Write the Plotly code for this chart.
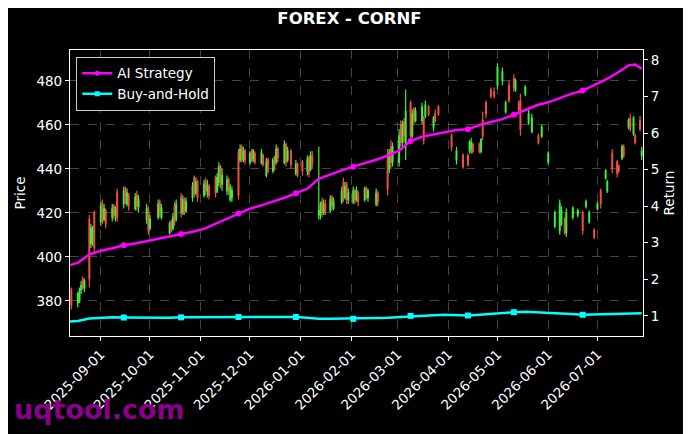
import plotly.graph_objects as go

# daily candles (trading days shown in the chart)
candle_dates = [
    "2025-08-14", "2025-08-18", "2025-08-19", "2025-08-20", "2025-08-21", "2025-08-22",
    "2025-08-25", "2025-08-26", "2025-08-27", "2025-08-28",
    "2025-09-01", "2025-09-02", "2025-09-03", "2025-09-04",
    "2025-09-08", "2025-09-09", "2025-09-10", "2025-09-11",
    "2025-09-15", "2025-09-16", "2025-09-17", "2025-09-18",
    "2025-09-22", "2025-09-23", "2025-09-24",
    "2025-09-29", "2025-09-30", "2025-10-01",
    "2025-10-06", "2025-10-07", "2025-10-08",
    "2025-10-13", "2025-10-14", "2025-10-15", "2025-10-16", "2025-10-17",
    "2025-10-20", "2025-10-21", "2025-10-22", "2025-10-23",
    "2025-10-27", "2025-10-28", "2025-10-29", "2025-10-30",
    "2025-11-03", "2025-11-04", "2025-11-05", "2025-11-06",
    "2025-11-10", "2025-11-11", "2025-11-12", "2025-11-13", "2025-11-14",
    "2025-11-17", "2025-11-18", "2025-11-19", "2025-11-20",
    "2025-11-24", "2025-11-25", "2025-11-26", "2025-11-27", "2025-11-28",
    "2025-12-01", "2025-12-02", "2025-12-03", "2025-12-04",
    "2025-12-08", "2025-12-09", "2025-12-11", "2025-12-12",
    "2025-12-15", "2025-12-16", "2025-12-17", "2025-12-18",
    "2025-12-22", "2025-12-23", "2025-12-24", "2025-12-26",
    "2025-12-29", "2025-12-30", "2026-01-02",
    "2026-01-05", "2026-01-06", "2026-01-07", "2026-01-08",
    "2026-01-12", "2026-01-13", "2026-01-14", "2026-01-15", "2026-01-16",
    "2026-01-19", "2026-01-20", "2026-01-21",
    "2026-01-26", "2026-01-27", "2026-01-28", "2026-01-29", "2026-01-30",
    "2026-02-02", "2026-02-03", "2026-02-04", "2026-02-05",
    "2026-02-09", "2026-02-10", "2026-02-11",
    "2026-02-16", "2026-02-17",
    "2026-02-23", "2026-02-24", "2026-02-25", "2026-02-26",
    "2026-03-02", "2026-03-03", "2026-03-04", "2026-03-05", "2026-03-06",
    "2026-03-09", "2026-03-10", "2026-03-11", "2026-03-12",
    "2026-03-16", "2026-03-17", "2026-03-18", "2026-03-20",
    "2026-03-23", "2026-03-24", "2026-03-26",
    "2026-04-03", "2026-04-06", "2026-04-10",
    "2026-04-13", "2026-04-14", "2026-04-15", "2026-04-16",
    "2026-04-20", "2026-04-21", "2026-04-22", "2026-04-24",
    "2026-04-27", "2026-04-29", "2026-05-01",
    "2026-05-04", "2026-05-06", "2026-05-08",
    "2026-05-11", "2026-05-12", "2026-05-14", "2026-05-15",
    "2026-05-18", "2026-05-20", "2026-05-22",
    "2026-05-26", "2026-05-28",
    "2026-06-01", "2026-06-05",
    "2026-06-08", "2026-06-09", "2026-06-11", "2026-06-12",
    "2026-06-16", "2026-06-19",
    "2026-06-22", "2026-06-24", "2026-06-26",
    "2026-06-29", "2026-07-01", "2026-07-03",
    "2026-07-06", "2026-07-07", "2026-07-10",
    "2026-07-13", "2026-07-14", "2026-07-16", "2026-07-17",
    "2026-07-20", "2026-07-21", "2026-07-23", "2026-07-24",
    "2026-07-27", "2026-07-28",
]
opens = [
    385, 379, 380, 385, 390, 386,
    417, 406, 408, 420,
    416, 424, 417, 421,
    418, 423, 419, 429,
    424, 431, 424, 428,
    422, 428, 423,
    417, 421, 413,
    418, 425, 418,
    411, 416, 413, 423, 417,
    427, 420, 426, 421,
    427, 436, 429, 434,
    428, 434, 430, 432,
    436, 430, 434, 441, 433,
    430, 435, 426, 427,
    447, 444, 450, 444, 448,
    443, 448, 444, 447,
    443, 446, 437, 444,
    439, 445, 443, 449,
    443, 451, 444, 448,
    438, 442, 443,
    439, 445, 440, 446,
    419, 419, 425, 420, 424,
    421, 427, 422,
    425, 434, 427, 433, 426,
    425, 430, 426, 429,
    426, 431, 427,
    424, 429,
    447, 440, 450, 443,
    443, 460, 452, 461, 450,
    470, 455, 467, 462,
    462, 463, 464, 468,
    459, 465, 468,
    455, 444, 446,
    446, 448, 449, 451,
    451, 448, 462, 470,
    476, 475, 478,
    480, 466, 478,
    481, 476, 470, 471,
    474, 461, 457,
    455, 455,
    443, 414,
    412, 415, 417, 411,
    418, 419,
    420, 423, 416,
    412, 422, 430,
    436, 430, 447,
    443, 441, 445, 450,
    459, 463, 456, 455,
    462, 446,
]
highs = [
    386, 384, 386, 389, 391, 390,
    419, 415, 414, 421,
    425, 426, 424, 422,
    424, 424, 423, 431,
    432, 432, 431, 429,
    429, 430, 428,
    424, 423, 419,
    426, 426, 424,
    416, 417, 420, 425, 426,
    429, 428, 427, 427,
    434, 437, 436, 435,
    435, 436, 435, 433,
    437, 438, 443, 442, 440,
    437, 436, 433, 432,
    449, 451, 451, 450, 449,
    448, 449, 449, 448,
    449, 447, 445, 445,
    445, 446, 451, 450,
    453, 452, 450, 449,
    444, 443, 444,
    446, 446, 448, 448,
    450, 425, 427, 426, 426,
    428, 428, 427,
    432, 436, 434, 434, 431,
    432, 431, 432, 430,
    432, 432, 431,
    431, 430,
    449, 449, 453, 452,
    458, 462, 462, 463, 476,
    471, 467, 468, 468,
    470, 464, 471, 469,
    464, 467, 469,
    456, 450, 447,
    447, 453, 454, 452,
    452, 454, 466, 471,
    477, 477, 488,
    486, 471, 480,
    483, 481, 471, 474,
    478, 467, 465,
    456, 460,
    448, 421,
    426, 423, 418, 422,
    423, 422,
    421, 426, 421,
    413, 425, 431,
    440, 435, 449,
    444, 442, 451, 451,
    463, 465, 464, 456,
    464, 450,
]
lows = [
    376, 377, 379, 383, 385, 384,
    386, 404, 405, 402,
    414, 415, 416, 413,
    416, 417, 416, 416,
    422, 424, 423, 421,
    421, 421, 420,
    415, 410, 412,
    417, 418, 417,
    410, 411, 412, 414, 416,
    418, 419, 419, 420,
    425, 427, 428, 425,
    427, 428, 427, 426,
    427, 429, 432, 431, 430,
    428, 428, 425, 425,
    426, 443, 443, 443, 442,
    442, 443, 443, 442,
    442, 441, 436, 438,
    438, 439, 442, 443,
    442, 441, 443, 440,
    437, 436, 437,
    437, 436, 439, 440,
    417, 417, 418, 419, 419,
    420, 421, 421,
    424, 425, 426, 424, 424,
    424, 424, 425, 423,
    425, 426, 425,
    423, 423,
    428, 438, 440, 441,
    441, 450, 450, 452, 444,
    452, 454, 460, 461,
    460, 451, 463, 464,
    457, 461, 464,
    448, 442, 440,
    441, 447, 447, 447,
    447, 447, 453, 463,
    472, 472, 476,
    478, 465, 470,
    475, 475, 466, 455,
    473, 460, 456,
    451, 454,
    442, 413,
    410, 414, 410, 409,
    417, 418,
    410, 422, 415,
    408, 421, 422,
    435, 429, 438,
    436, 438, 444, 445,
    458, 457, 455, 451,
    457, 444,
]
closes = [
    378, 383, 385, 387, 386, 389,
    390, 413, 412, 404,
    423, 417, 422, 415,
    422, 419, 421, 418,
    430, 426, 429, 423,
    427, 423, 426,
    422, 412, 417,
    424, 420, 422,
    415, 412, 418, 416, 424,
    420, 426, 421, 425,
    432, 429, 434, 427,
    433, 430, 432, 428,
    429, 436, 441, 433, 437,
    435, 430, 431, 430,
    428, 449, 445, 448, 444,
    447, 445, 448, 443,
    447, 442, 443, 439,
    444, 441, 449, 445,
    451, 443, 448, 442,
    442, 437, 439,
    444, 438, 446, 442,
    421, 423, 420, 424, 421,
    426, 423, 425,
    430, 427, 432, 426, 429,
    430, 426, 430, 425,
    431, 428, 430,
    429, 425,
    431, 447, 443, 450,
    455, 452, 460, 455, 466,
    455, 465, 462, 466,
    468, 453, 469, 465,
    463, 462, 465,
    450, 448, 441,
    442, 452, 452, 448,
    448, 453, 455, 465,
    473, 473, 486,
    484, 470, 471,
    477, 480, 467, 458,
    477, 465, 463,
    452, 459,
    447, 420,
    424, 421, 411, 420,
    422, 421,
    412, 425, 420,
    409, 424, 424,
    439, 434, 440,
    438, 439, 450, 446,
    462, 458, 463, 452,
    458, 448,
]

# weekly samples of the two return curves
line_dates = [
    "2025-08-13", "2025-08-18", "2025-08-25", "2025-09-01", "2025-09-08", "2025-09-15",
    "2025-09-22", "2025-09-29", "2025-10-06", "2025-10-13", "2025-10-20", "2025-10-27",
    "2025-11-03", "2025-11-10", "2025-11-17", "2025-11-24", "2025-12-01", "2025-12-08",
    "2025-12-15", "2025-12-22", "2025-12-29", "2026-01-05", "2026-01-12", "2026-01-19",
    "2026-01-26", "2026-02-02", "2026-02-09", "2026-02-16", "2026-02-23", "2026-03-02",
    "2026-03-09", "2026-03-16", "2026-03-23", "2026-03-30", "2026-04-06", "2026-04-13",
    "2026-04-20", "2026-04-27", "2026-05-04", "2026-05-11", "2026-05-18", "2026-05-25",
    "2026-06-01", "2026-06-08", "2026-06-15", "2026-06-22", "2026-06-29", "2026-07-06",
    "2026-07-13", "2026-07-20", "2026-07-24", "2026-07-28",
]
ai_strategy = [
    2.39, 2.45, 2.68, 2.78, 2.85, 2.93,
    2.98, 3.04, 3.10, 3.17, 3.24, 3.30,
    3.38, 3.52, 3.65, 3.80, 3.93, 4.02,
    4.12, 4.23, 4.35, 4.48, 4.75, 4.87,
    4.98, 5.08, 5.17, 5.27, 5.38, 5.52,
    5.78, 5.90, 5.96, 6.03, 6.08, 6.10,
    6.22, 6.30, 6.38, 6.50, 6.64, 6.76,
    6.84, 6.96, 7.07, 7.16, 7.31, 7.46,
    7.64, 7.85, 7.87, 7.76,
]
buy_hold = [
    0.845, 0.86, 0.93, 0.95, 0.96, 0.955,
    0.95, 0.95, 0.95, 0.95, 0.96, 0.96,
    0.96, 0.96, 0.97, 0.97, 0.97, 0.97,
    0.97, 0.98, 0.97, 0.95, 0.92, 0.92,
    0.92, 0.92, 0.93, 0.94, 0.95, 0.97,
    1.00, 1.01, 1.02, 1.03, 1.02, 1.01,
    1.03, 1.06, 1.08, 1.10, 1.11, 1.10,
    1.08, 1.06, 1.05, 1.03, 1.04, 1.05,
    1.05, 1.06, 1.07, 1.07,
]
marker_idx = [5, 10, 15, 20, 25, 30, 35, 39, 45]

price_ticks = [380, 400, 420, 440, 460, 480]
return_ticks = [1, 2, 3, 4, 5, 6, 7, 8]
month_ticks = [
    "2025-09-01", "2025-10-01", "2025-11-01", "2025-12-01", "2026-01-01", "2026-02-01",
    "2026-03-01", "2026-04-01", "2026-05-01", "2026-06-01", "2026-07-01",
]

GREEN = "#3cf03c"
RED = "#f0503c"
MAGENTA = "#ff00ff"
CYAN = "#00ffff"
FONT = "DejaVu Sans"
TICK_SIZE = 13.5

fig = go.Figure()

fig.add_trace(go.Candlestick(
    x=candle_dates, open=opens, high=highs, low=lows, close=closes,
    increasing=dict(line=dict(color=GREEN, width=1.2), fillcolor=GREEN),
    decreasing=dict(line=dict(color=RED, width=1.2), fillcolor=RED),
    showlegend=False, yaxis="y"))

# return curves on the right axis
fig.add_trace(go.Scatter(x=line_dates, y=ai_strategy, mode="lines",
                         line=dict(color=MAGENTA, width=2.5), showlegend=False, yaxis="y2"))
fig.add_trace(go.Scatter(x=line_dates, y=buy_hold, mode="lines",
                         line=dict(color=CYAN, width=2.5), showlegend=False, yaxis="y2"))
fig.add_trace(go.Scatter(x=[line_dates[i] for i in marker_idx], y=[ai_strategy[i] for i in marker_idx],
                         mode="markers", marker=dict(color=MAGENTA, size=6, symbol="circle"),
                         showlegend=False, yaxis="y2"))
fig.add_trace(go.Scatter(x=[line_dates[i] for i in marker_idx], y=[buy_hold[i] for i in marker_idx],
                         mode="markers", marker=dict(color=CYAN, size=6, symbol="square"),
                         showlegend=False, yaxis="y2"))

# legend entries
fig.add_trace(go.Scatter(x=[None], y=[None], mode="lines+markers", name="AI Strategy",
                         line=dict(color=MAGENTA, width=2.5), marker=dict(color=MAGENTA, size=5, symbol="circle"),
                         yaxis="y2"))
fig.add_trace(go.Scatter(x=[None], y=[None], mode="lines+markers", name="Buy-and-Hold",
                         line=dict(color=CYAN, width=2.5), marker=dict(color=CYAN, size=5, symbol="square"),
                         yaxis="y2"))

grid = dict(showgrid=True, gridcolor="rgba(150,150,150,0.45)", griddash="dash", gridwidth=0.6)

# page body adds 8px, so the figure is 8px smaller than the window
fig.update_layout(
    width=683, height=426,
    margin=dict(l=59, r=48, t=42, b=98),
    paper_bgcolor="black", plot_bgcolor="black",
    font=dict(family=FONT, size=TICK_SIZE, color="white"),
    title=dict(text="<b>FOREX - CORNF</b>", x=0.5, xanchor="center", y=0.9765, yanchor="middle",
               font=dict(size=16.5, color="white", family=FONT)),
    xaxis=dict(type="date", range=["2025-08-13 05:00", "2026-07-28 19:00"],
               tickvals=month_ticks, ticktext=month_ticks, tickangle=-45,
               ticks="outside", ticklen=4, tickcolor="white",
               showline=True, linecolor="white", linewidth=1.2, mirror=True,
               rangeslider=dict(visible=False), zeroline=False,
               tickfont=dict(size=TICK_SIZE, color="white"), **grid),
    yaxis=dict(range=[364, 494], tickvals=price_ticks, ticks="outside", ticklen=4, tickcolor="white",
               showline=True, linecolor="white", linewidth=1.2, zeroline=False,
               title=dict(text="Price", standoff=7, font=dict(size=TICK_SIZE)),
               tickfont=dict(size=TICK_SIZE, color="white"), **grid),
    yaxis2=dict(range=[0.45, 8.27], tickvals=return_ticks, overlaying="y", side="right",
                ticks="outside", ticklen=4, tickcolor="white",
                showline=True, linecolor="white", linewidth=1.2, showgrid=False, zeroline=False,
                title=dict(text="Return", standoff=6, font=dict(size=TICK_SIZE)),
                tickfont=dict(size=TICK_SIZE, color="white")),
    legend=dict(x=0.011, y=0.976, xanchor="left", yanchor="top",
                bgcolor="black", bordercolor="#cccccc", borderwidth=1,
                font=dict(size=TICK_SIZE, color="white"), itemwidth=30, tracegroupgap=2),
    annotations=[dict(xref="paper", yref="paper", x=-0.102, y=-0.258, xanchor="left", yanchor="middle",
                      text="<b>uqtool.com</b>", showarrow=False,
                      font=dict(family=FONT, size=27, color="#8b008b"))],
)

fig.write_html("out.html")
